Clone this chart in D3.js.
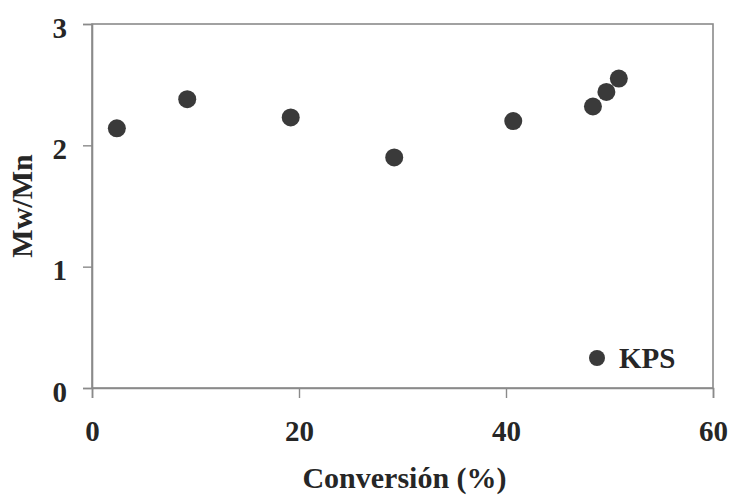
<!DOCTYPE html>
<html>
<head>
<meta charset="utf-8">
<script src="https://cdn.jsdelivr.net/npm/d3@7"></script>
<style>
  html, body { margin: 0; padding: 0; background: #fff; }
  svg { display: block; }
  text { font-family: "Liberation Serif", "Times New Roman", serif; font-weight: bold; fill: #262626; }
</style>
</head>
<body>
<svg id="chart" width="733" height="496"></svg>
<script>
// Conversion (%) and polydispersity index Mw/Mn for the KPS series
const conversion = [2.4, 9.2, 19.2, 29.2, 40.7, 48.4, 49.7, 50.9];
const mwMn = [2.14, 2.38, 2.23, 1.90, 2.20, 2.32, 2.44, 2.55];
const xTicks = [0, 20, 40, 60];
const yTicks = [0, 1, 2, 3];
const seriesName = "KPS";
const xTitle = "Conversión (%)";
const yTitle = "Mw/Mn";

const svg = d3.select("#chart");
const plot = { left: 92, right: 713, top: 24, bottom: 388 };

const x = d3.scaleLinear().domain([0, 60]).range([plot.left, plot.right]);
const y = d3.scaleLinear().domain([0, 3]).range([plot.bottom, plot.top]);

const frameColor = "#8a8a8a";

// Plot frame
svg.append("rect")
  .attr("x", plot.left).attr("y", plot.top)
  .attr("width", plot.right - plot.left).attr("height", plot.bottom - plot.top)
  .attr("fill", "none").attr("stroke", frameColor).attr("stroke-width", 1.6);

// Axes
const xAxis = svg.append("g")
  .attr("transform", `translate(0,${plot.bottom})`)
  .call(d3.axisBottom(x).tickValues(xTicks).tickSize(10).tickPadding(22).tickFormat(d3.format("d")));
const yAxis = svg.append("g")
  .attr("transform", `translate(${plot.left},0)`)
  .call(d3.axisLeft(y).tickValues(yTicks).tickSize(9).tickPadding(16).tickFormat(d3.format("d")));

[xAxis, yAxis].forEach(g => {
  g.select(".domain").attr("stroke", frameColor).attr("stroke-width", 1.6);
  g.selectAll(".tick line").attr("stroke", frameColor).attr("stroke-width", 1.4);
  g.selectAll(".tick text")
    .attr("font-family", "Liberation Serif, Times New Roman, serif")
    .attr("font-weight", "bold")
    .attr("font-size", 29)
    .attr("fill", "#262626");
});
yAxis.selectAll(".tick text").attr("dy", "0.45em");

// Data points
svg.append("g")
  .selectAll("circle")
  .data(conversion.map((c, i) => ({ c, v: mwMn[i] })))
  .join("circle")
  .attr("cx", d => x(d.c))
  .attr("cy", d => y(d.v))
  .attr("r", 9)
  .attr("fill", "#3a3a3a");

// Legend
svg.append("circle").attr("cx", 597).attr("cy", 358).attr("r", 8).attr("fill", "#3a3a3a");
svg.append("text").attr("x", 619).attr("y", 368).attr("font-size", 29).text(seriesName);

// Axis titles
svg.append("text")
  .attr("x", (plot.left + plot.right) / 2 + 2)
  .attr("y", 488)
  .attr("text-anchor", "middle")
  .attr("font-size", 30)
  .text(xTitle);

svg.append("text")
  .attr("transform", `translate(32,206) rotate(-90)`)
  .attr("text-anchor", "middle")
  .attr("font-size", 30)
  .text(yTitle);
</script>
</body>
</html>
